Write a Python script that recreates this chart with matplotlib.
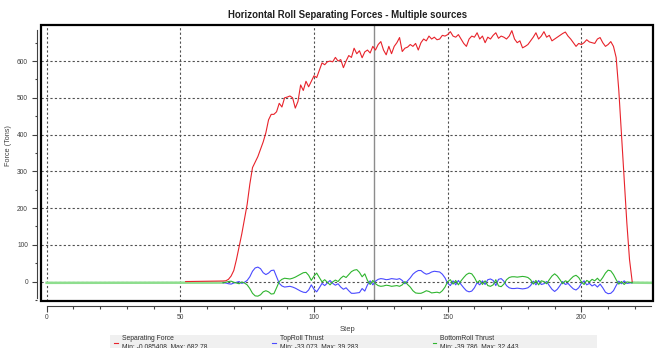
import matplotlib
matplotlib.use("Agg")
import matplotlib.pyplot as plt
import numpy as np
from matplotlib.patches import Rectangle
from matplotlib.lines import Line2D

plt.rcParams['font.family'] = ['Liberation Sans', 'DejaVu Sans']

### DATA ###

# separating force (tons), one sample per step from 52 to 219
sep_steps = np.arange(52, 220)
sep_force = [0.0, 0.1, -0.085408, 0.2, 0.3, 0.3, 0.4, 0.5, 0.6, 0.6, 0.8, 0.9, 1.0, 1.2, 1.5,
             2, 6, 15, 30, 60, 95, 130, 170, 210, 265, 310, 325, 340, 360, 380,
             405, 440, 455, 455, 462, 485, 475, 500, 502, 505, 500, 472, 490, 535, 520,
             545, 530, 545, 560, 555, 575, 595, 590, 598, 600, 598, 610, 600, 604, 582,
             600, 615, 610, 635, 620, 628, 609, 625, 630, 622, 640, 630, 645, 653, 630,
             617, 640, 620, 640, 650, 664, 626, 635, 638, 645, 640, 648, 630, 650, 660,
             655, 668, 660, 665, 658, 660, 670, 668, 672, 680, 668, 665, 672, 660, 648,
             640, 660, 668, 665, 677, 660, 668, 650, 665, 660, 670, 677, 662, 668, 665,
             660, 668, 682.78, 660, 650, 655, 636, 640, 645, 655, 665, 677, 660, 668, 680,
             665, 670, 655, 660, 665, 670, 675, 679, 668, 660, 650, 640, 648, 645, 650,
             658, 652, 650, 648, 660, 664, 650, 640, 645, 653, 640, 610, 520, 400, 280,
             160, 60, 0.0]

# roll thrusts (tons), one sample per step from 66 to 219
thrust_steps = np.arange(66, 220)
top_thrust = [-3, -4, -6, -7, -4, -2, 0, -5, -2, 3, 13, 28, 37, 39.283, 35,
              24, 19, 23, 30, 31, 13, -5, -12, -15, -14, -13, -15, -18, -22, -26,
              -29, -30, -23, -9, -21, -28, -17, -5, -11, -4, 3, -5, -10, -6, -15,
              -21, -17, -25, -32, -32, -31, -30, -19, -26, -9, 2, -9, 1, 6, 8,
              7, 5, 6, 8, 7, 6, 8, 3, -6, 2, 10, 20, 26, 30, 30,
              24, 20, 22, 26, 28, 27, 26, 20, 10, -5, -11, 2, -9, 3, -8,
              -17, -25, -28, -26, -17, -3, -9, 2, -8, 5, 7, 3, -11, 6, 8,
              1, -11, -17, -19, -19, -18, -19, -20, -19, -17, -11, 1, -9, 3, -8,
              -6, 0, -11, -21, -27, -21, -11, 0, -8, -5, -13, -20, -23, -17, -5,
              2, -9, -5, -12, -8, -15, -7, -17, -29, -33.073, -32, -25, -11, 1, -6,
              2, -5, -4, -3]
bottom_thrust = [-3, -2, 0, 1, -2, -4, -6, -1, -4, -9, -19, -32, -39, -39.786, -36,
                 -28, -25, -28, -34, -33, -17, 0, 6, 9, 8, 7, 9, 12, 16, 20,
                 24, 25, 17, 3, 15, 23, 11, -1, 5, -2, -9, -1, 4, 0, 9,
                 15, 11, 19, 27, 31, 32.443, 25, 13, 21, 3, -8, 3, -6, -11, -13,
                 -12, -10, -11, -13, -12, -11, -13, -9, 0, -8, -15, -25, -31, -32, -32,
                 -29, -25, -27, -31, -30, -29, -31, -25, -15, 0, 5, -7, 3, -9, 2,
                 11, 19, 23, 21, 11, -3, 3, -8, 2, -11, -13, -9, 5, -12, -14,
                 -7, 5, 11, 13, 13, 12, 13, 14, 13, 11, 5, -7, 3, -9, 2,
                 0, -6, 5, 15, 21, 15, 5, -6, 2, -1, 7, 14, 17, 11, -1,
                 -8, 3, -1, 6, 2, 9, 1, 11, 23, 31, 29, 19, 5, -7, 0,
                 -8, -1, -2, -3]

# bottom roll baseline before and after the pass
bottom_lead_steps = [0, 66]
bottom_lead = [-3.5, -3]
bottom_tail_steps = [219, 226]
bottom_tail = [-3, -3.5]

cursor_step = 122.4

legend_names = ["Separating Force", "TopRoll Thrust", "BottomRoll Thrust"]
legend_stats = ["Min: -0.085408, Max: 682.78", "Min: -33.073, Max: 39.283", "Min: -39.786, Max: 32.443"]

RED = '#e8232b'
BLUE = '#4a4aff'
GREEN = '#2fb52f'
PALE_GREEN = '#8ede8e'

### PLOT ###

fig = plt.figure(figsize=(6.55, 3.48), dpi=100)
ax = fig.add_axes([0.0626, 0.135, 0.9344, 0.793])

ax.plot(bottom_lead_steps, bottom_lead, color=PALE_GREEN, lw=1.8, zorder=2)
ax.plot(bottom_tail_steps, bottom_tail, color=PALE_GREEN, lw=1.8, zorder=2)
ax.plot(sep_steps, sep_force, color=RED, lw=0.8, zorder=3)
ax.plot(thrust_steps, top_thrust, color=BLUE, lw=0.8, zorder=3)
ax.plot(thrust_steps, bottom_thrust, color=GREEN, lw=0.8, zorder=3)

ax.axvline(cursor_step, color='#8c8c8c', lw=1.0, zorder=1)

ax.set_xlim(-2.1, 226.8)
ax.set_ylim(-53, 698)

ax.set_xticks(np.arange(0, 201, 50))
ax.set_xticks(np.arange(0, 221, 10), minor=True)
ax.set_yticks(np.arange(0, 601, 100))
ax.set_yticks(np.arange(-50, 651, 50), minor=True)

ax.grid(True, which='major', color='#505050', linestyle=(0, (2, 2)), lw=0.8)
ax.set_axisbelow(True)

# detached axis lines
for side in ['top', 'right']:
    ax.spines[side].set_visible(False)
ax.spines['left'].set_position(('outward', 2.9))
ax.spines['bottom'].set_position(('outward', 3.6))
ax.spines['left'].set_bounds(-46, 684)
ax.spines['bottom'].set_bounds(0, 226)
for side in ['left', 'bottom']:
    ax.spines[side].set_color('#404040')
    ax.spines[side].set_linewidth(0.8)

ax.tick_params(axis='y', which='major', length=3.6, width=0.8, color='#404040',
               labelsize=4.8, labelcolor='#404040', pad=2.9)
ax.tick_params(axis='y', which='minor', length=1.8, width=0.8, color='#404040')
ax.tick_params(axis='x', which='major', length=4.0, width=0.8, color='#404040',
               labelsize=4.8, labelcolor='#404040', pad=1.5)
ax.tick_params(axis='x', which='minor', length=2.4, width=0.8, color='#404040')

# plot frame
ax.add_patch(Rectangle((0, 0), 1, 1, transform=ax.transAxes, fill=False,
                       lw=1.6, ec='black', clip_on=False, zorder=6))

fig.text(0.530, 0.957, "Horizontal Roll Separating Forces - Multiple sources",
         ha='center', va='center', fontsize=6.9, fontweight='bold', color='#202020')
fig.text(0.0137, 0.582, "Force (Tons)", rotation=90, ha='center', va='center',
         fontsize=5.2, color='#404040')
fig.text(0.531, 0.052, "Step", ha='center', va='center', fontsize=5.5, color='#404040')

# legend strip along the bottom edge
fig.add_artist(Rectangle((0.168, 0.0), 0.7435, 0.0374, transform=fig.transFigure,
                         fc='#f0f0f0', ec='none'))
legend_x = [0.1855, 0.427, 0.6715]
for x, name, stats, col in zip(legend_x, legend_names, legend_stats, [RED, BLUE, GREEN]):
    fig.add_artist(Line2D([x - 0.011, x - 0.006], [0.0144, 0.0144], color=col, lw=0.8,
                          transform=fig.transFigure))
    fig.text(x, 0.0287, name, ha='left', va='center', fontsize=4.9, color='#303030')
    fig.text(x, 0.003, stats, ha='left', va='center', fontsize=4.9, color='#303030')

fig.savefig("out.png", dpi=100, facecolor='white')
